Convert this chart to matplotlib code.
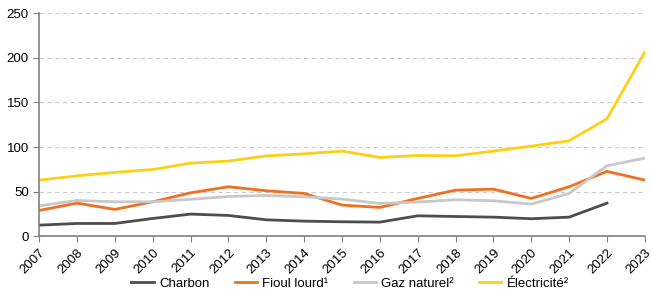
import matplotlib
matplotlib.use('Agg')
import matplotlib.pyplot as plt

plt.rcParams['font.family'] = ['Liberation Sans', 'DejaVu Sans']

years = list(range(2007, 2024))
charbon = [12.3, 14.2, 14.2, 19.8, 24.7, 23.2, 18.3, 16.8, 16.1, 15.7, 22.8, 22.0, 21.3, 19.5, 21.3, 37.0, None]
fioul = [28.8, 37.0, 30.0, 38.5, 48.6, 55.4, 50.9, 47.9, 34.8, 32.2, 42.3, 51.6, 52.7, 42.3, 55.4, 72.6, 62.9]
gaz = [34.0, 40.0, 38.5, 38.5, 41.2, 44.5, 45.6, 44.1, 41.5, 36.7, 38.2, 40.8, 39.7, 35.9, 47.9, 78.9, 87.5]
elec = [62.8, 67.7, 71.5, 74.8, 81.9, 84.2, 90.0, 92.4, 95.4, 88.3, 90.5, 90.2, 95.4, 101.0, 107.0, 131.7, 206.5]

labels = ['Charbon', 'Fioul lourd¹', 'Gaz naturel²', 'Électricité²']
colors = ['#4d4d4d', '#f07020', '#c8c8c8', '#fdd017']

fig = plt.figure(figsize=(6.52, 2.97), dpi=100)
ax = fig.add_axes([0.06, 0.205, 0.929, 0.75])

# charbon has no 2023 value
yrs_c = [y for y, v in zip(years, charbon) if v is not None]
val_c = [v for v in charbon if v is not None]
ax.plot(yrs_c, val_c, color=colors[0], lw=2, label=labels[0])
ax.plot(years, fioul, color=colors[1], lw=2, label=labels[1])
ax.plot(years, gaz, color=colors[2], lw=2, label=labels[2])
ax.plot(years, elec, color=colors[3], lw=2, label=labels[3])

ax.set_xlim(2007, 2023)
ax.set_ylim(0, 250)
ax.set_yticks([0, 50, 100, 150, 200, 250])
ax.set_xticks(years)
ax.set_xticklabels([str(y) for y in years], rotation=45, ha='right', rotation_mode='anchor', fontsize=9.5)
ax.tick_params(axis='y', labelsize=9.5, length=4, color='#808080')
ax.tick_params(axis='x', length=4, color='#808080')
ax.grid(axis='y', color='#cccccc', ls=(0, (4, 3)), lw=0.8)
ax.set_axisbelow(True)
for s in ['top', 'right']:
    ax.spines[s].set_visible(False)
for s in ['left', 'bottom']:
    ax.spines[s].set_color('#808080')
    ax.spines[s].set_linewidth(1.2)

fig.legend(loc='lower center', ncol=4, frameon=False, fontsize=9.5,
           bbox_to_anchor=(0.537, -0.015), handlelength=1.7, handletextpad=0.4,
           columnspacing=1.9)

fig.savefig('out.png', dpi=100)
